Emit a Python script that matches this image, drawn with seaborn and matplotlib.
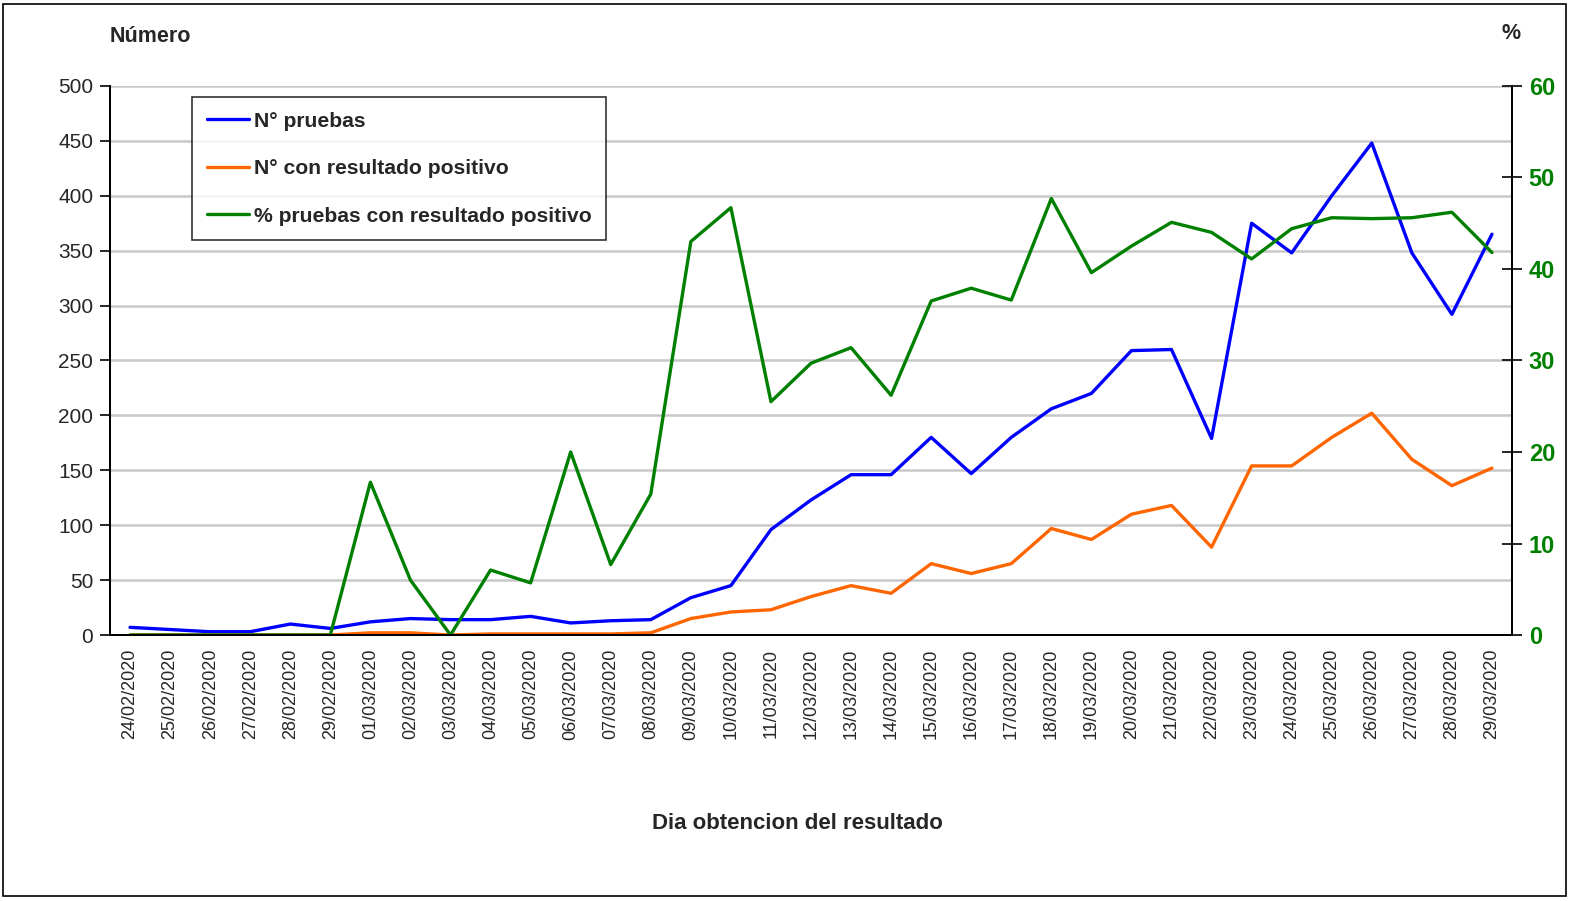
import numpy as np
import pandas as pd
import matplotlib
matplotlib.use("Agg")
import matplotlib.pyplot as plt
import seaborn as sns
from matplotlib.patches import Rectangle
from matplotlib.ticker import FixedLocator, MultipleLocator

# data
dates = [
    "24/02/2020", "25/02/2020", "26/02/2020", "27/02/2020", "28/02/2020", "29/02/2020",
    "01/03/2020", "02/03/2020", "03/03/2020", "04/03/2020", "05/03/2020", "06/03/2020",
    "07/03/2020", "08/03/2020", "09/03/2020", "10/03/2020", "11/03/2020", "12/03/2020",
    "13/03/2020", "14/03/2020", "15/03/2020", "16/03/2020", "17/03/2020", "18/03/2020",
    "19/03/2020", "20/03/2020", "21/03/2020", "22/03/2020", "23/03/2020", "24/03/2020",
    "25/03/2020", "26/03/2020", "27/03/2020", "28/03/2020", "29/03/2020",
]
pruebas = [7, 5, 3, 3, 10, 6, 12, 15, 14, 14, 17, 11, 13, 14, 34, 45, 96, 123, 146, 146,
           180, 147, 180, 206, 220, 259, 260, 179, 375, 348, 400, 448, 348, 292, 365]
positivos = [0, 0, 0, 0, 0, 0, 2, 2, 0, 1, 1, 1, 1, 2, 15, 21, 23, 35, 45, 38,
             65, 56, 65, 97, 87, 110, 118, 80, 154, 154, 180, 202, 160, 136, 152]
pct_positivos = [0, 0, 0, 0, 0, 0, 16.7, 6.0, 0, 7.1, 5.7, 20.0, 7.7, 15.4, 43.0, 46.7,
                 25.5, 29.7, 31.4, 26.2, 36.5, 37.9, 36.6, 47.7, 39.6, 42.5, 45.1, 44.0,
                 41.1, 44.4, 45.6, 45.5, 45.6, 46.2, 41.8]

BLUE, ORANGE, GREEN = "#0000FF", "#FF6600", "#008000"

df = pd.DataFrame({
    "pos": np.arange(len(dates)),
    "pruebas": pruebas,
    "positivos": positivos,
    "pct": pct_positivos,
})

sns.set_style("white")
plt.rcParams["font.family"] = ["Liberation Sans", "DejaVu Sans"]

fig = plt.figure(figsize=(15.74, 9.01), dpi=100)
ax = fig.add_axes([0.0699, 0.2952, 0.8907, 0.6094])
ax2 = ax.twinx()

sns.lineplot(data=df, x="pos", y="pruebas", ax=ax, color=BLUE, lw=2.4,
             label="N° pruebas", legend=False)
sns.lineplot(data=df, x="pos", y="positivos", ax=ax, color=ORANGE, lw=2.4,
             label="N° con resultado positivo", legend=False)
sns.lineplot(data=df, x="pos", y="pct", ax=ax2, color=GREEN, lw=2.4,
             label="% pruebas con resultado positivo", legend=False)

# left axis
ax.set_ylim(0, 500)
ax.set_yticks(np.arange(0, 501, 50))
ax.yaxis.grid(True, color="#C8C8C8", lw=1.8)
ax.set_axisbelow(True)
ax.set_xlim(-0.5, len(dates) - 0.5)
ax.set_xticks(df["pos"])
ax.set_xticklabels(dates, rotation=90, fontsize=13)
ax.xaxis.set_minor_locator(FixedLocator(np.arange(-0.5, len(dates), 1.0)))
ax.tick_params(axis="x", which="major", length=0, pad=10)
ax.tick_params(axis="x", which="minor", length=7, width=1.2, color="black", direction="out")
ax.tick_params(axis="y", length=7, width=1.2, color="black", direction="out",
               labelsize=15, pad=5)
ax.set_xlabel("")
ax.set_ylabel("")

# right axis
ax2.set_ylim(0, 60)
ax2.yaxis.set_major_locator(MultipleLocator(10))
ax2.tick_params(axis="y", length=14, width=1.2, color="black", direction="inout",
                labelsize=17, labelcolor=GREEN, pad=5)
for lab in ax2.get_yticklabels():
    lab.set_fontweight("bold")
ax2.set_ylabel("")

for a in (ax, ax2):
    a.spines["top"].set_visible(False)
    for s in ("left", "bottom", "right"):
        a.spines[s].set_color("black")
        a.spines[s].set_linewidth(1.4)

# legend
handles = ax.get_lines()[:2] + ax2.get_lines()[:1]
leg = ax.legend(handles, [h.get_label() for h in handles], loc="upper left",
                bbox_to_anchor=(0.0587, 0.98), frameon=True, fancybox=False,
                prop={"size": 15.2, "weight": "bold"}, handlelength=2.0,
                handletextpad=0.2, labelspacing=1.35, borderpad=0.7, borderaxespad=0)
leg.get_frame().set_edgecolor("black")
leg.get_frame().set_linewidth(1.2)

# titles
fig.text(0.0699, 0.959, "Número", fontsize=15.5, fontweight="bold", va="center")
fig.text(0.9600, 0.963, "%", fontsize=15.5, fontweight="bold", va="center", ha="center")
fig.text(0.5065, 0.0855, "Dia obtencion del resultado", fontsize=16,
         fontweight="bold", ha="center", va="center")

# chart frame
fig.patches.append(Rectangle((0.002, 0.005), 0.993, 0.991, transform=fig.transFigure,
                             fill=False, edgecolor="black", lw=1.2))

fig.savefig("out.png", dpi=100)
